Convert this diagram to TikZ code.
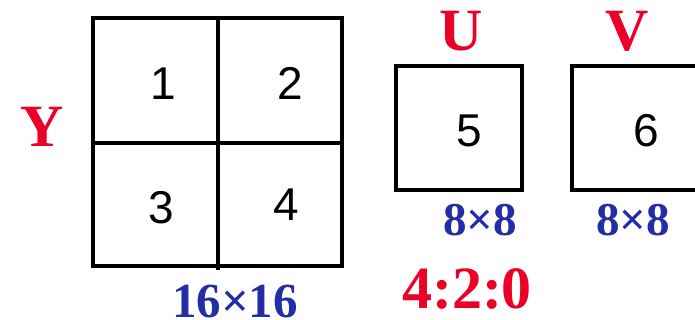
\documentclass[tikz,border=0pt]{standalone}
\usepackage{fontspec}
\setmainfont{Liberation Serif}
\newfontfamily\digitfont{Liberation Sans}
\definecolor{lblred}{RGB}{235,0,40}
\definecolor{lblblue}{RGB}{35,45,165}
\tikzset{
  box/.style={draw=black, line width=3.6pt},
  num/.style={anchor=base, inner sep=0pt, font=\digitfont\fontsize{46}{46}\selectfont},
  chan/.style={anchor=base, inner sep=0pt, text=lblred, font=\bfseries\fontsize{60}{60}\selectfont},
  dim/.style={anchor=base, inner sep=0pt, text=lblblue, font=\bfseries\fontsize{49}{49}\selectfont},
}
\begin{document}
\begin{tikzpicture}[x=1pt, y=-1pt]
\useasboundingbox (0,0) rectangle (695,320);
\begin{scope}
\clip (0,0) rectangle (695,320);
% Y block
\draw[box] (93,18) rectangle (342,266);
\coordinate (ytop) at (218,18);
\coordinate (ybot) at (218,270);
\coordinate (yleft) at (93,143);
\coordinate (yright) at (342,143);
\draw[box] (ytop) -- (ybot);
\draw[box] (yleft) -- (yright);
% U and V blocks
\draw[box] (396,66) rectangle (522,190);
\draw[box] (572,66) rectangle (720,190);
\end{scope}
\node[num] (n1) at (163,100) {1};
\node[num] (n2) at (290,100) {2};
\node[num] (n3) at (161,223) {3};
\node[num] (n4) at (286,221) {4};
\node[num] (n5) at (469,147) {5};
\node[num] (n6) at (646,147) {6};
\node[chan] (ly) at (42,147) {Y};
\node[chan] (lu) at (461,51) {U};
\node[chan] (lv) at (627,51) {V};
\node[dim] (d16) at (235,317) {16×16};
\node[dim, font=\bfseries\fontsize{47}{47}\selectfont] (du) at (480,235) {8×8};
\node[dim, font=\bfseries\fontsize{47}{47}\selectfont] (dv) at (633,235) {8×8};
\node[chan] (ratio) at (467,308) {4:2:0};
\end{tikzpicture}
\end{document}
